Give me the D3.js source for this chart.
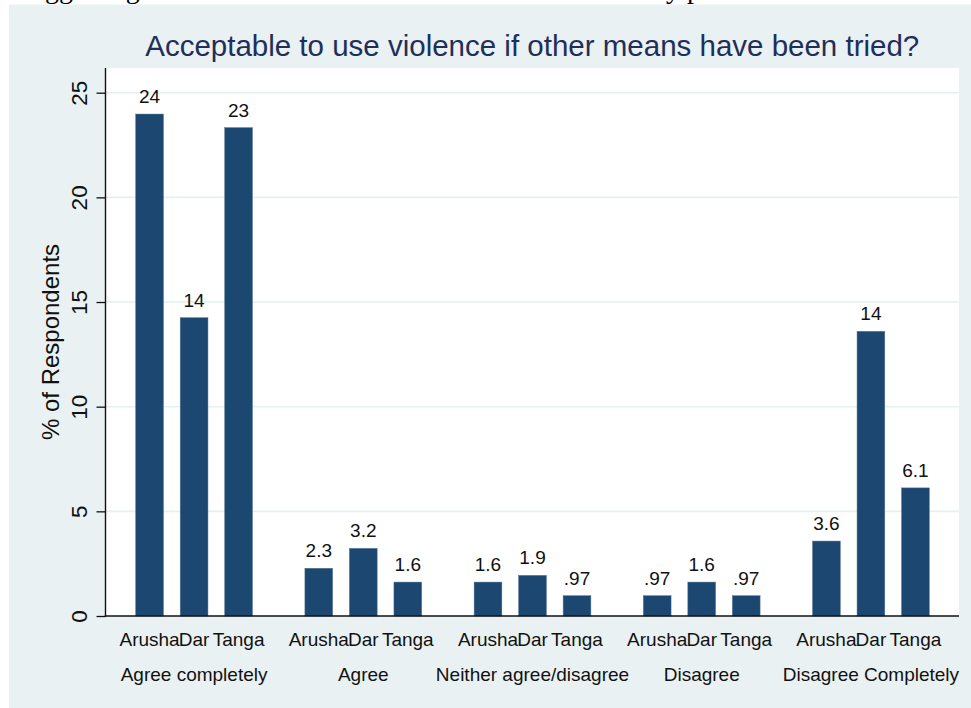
<!DOCTYPE html>
<html>
<head>
<meta charset="utf-8">
<script src="https://cdn.jsdelivr.net/npm/d3@7"></script>
<style>
  html, body { margin: 0; padding: 0; background: #ffffff; }
  svg { display: block; }
</style>
</head>
<body>
<svg id="chart" width="971" height="708"></svg>
<script>
// ---- data ----
const groups = ["Agree completely", "Agree", "Neither agree/disagree", "Disagree", "Disagree Completely"];
const cities = ["Arusha", "Dar", "Tanga"];
const arushaValues = [23.98, 2.28, 1.62, 0.97, 3.58];
const darValues    = [14.25, 3.23, 1.94, 1.62, 13.6];
const tangaValues  = [23.33, 1.62, 0.97, 0.97, 6.12];
const yTicks = [0, 5, 10, 15, 20, 25];
const titleText = "Acceptable to use violence if other means have been tried?";
const yTitle = "% of Respondents";

const seriesByCity = { Arusha: arushaValues, Dar: darValues, Tanga: tangaValues };
const rows = [];
groups.forEach((g, gi) => cities.forEach(c => rows.push({ group: g, city: c, value: seriesByCity[c][gi] })));

// ---- layout ----
const W = 971, H = 708;
const plotL = 105.5, plotR = 959, plotT = 68, plotB = 616;
const svg = d3.select("#chart");
const font = "'Liberation Sans', Arial, Helvetica, sans-serif";

// cut-off document text above the graph (only descenders visible, as in the reference)
const docText = svg.append("g").attr("font-family", "'Liberation Serif', 'Times New Roman', serif")
  .attr("font-size", 28).attr("fill", "#000");
docText.append("text").attr("x", 20).attr("y", -2).text("suggesting");
docText.append("text").attr("x", 652).attr("y", -2).text("by p");

// outer panel
svg.append("rect").attr("x", 9).attr("y", 4.5).attr("width", W - 9).attr("height", H - 4.5)
  .attr("fill", "#eaf1f3");
// plot region
svg.append("rect").attr("x", plotL).attr("y", plotT).attr("width", plotR - plotL).attr("height", plotB - plotT)
  .attr("fill", "#ffffff");

// scales
const y = d3.scaleLinear().domain([0, 25]).range([plotB, 92.7]);
const x0 = d3.scaleBand().domain(groups).range([135.7, 929.3]).paddingInner(0.31).paddingOuter(0);
const x1 = d3.scaleBand().domain(cities).range([0, x0.bandwidth()]).paddingInner(0.377).paddingOuter(0);

// gridlines
svg.append("g").selectAll("line").data(yTicks.filter(t => t > 0)).join("line")
  .attr("x1", plotL).attr("x2", plotR)
  .attr("y1", d => y(d)).attr("y2", d => y(d))
  .attr("stroke", "#e6eff2").attr("stroke-width", 1.6);

// bars
svg.append("g").selectAll("rect").data(rows).join("rect")
  .attr("x", d => x0(d.group) + x1(d.city))
  .attr("width", x1.bandwidth())
  .attr("y", d => y(d.value))
  .attr("height", d => y(0) - y(d.value))
  .attr("fill", "#1c4770")
  .attr("stroke", "#4f7396").attr("stroke-width", 0.5);

// value labels
const fmt = v => d3.format(".2g")(v).replace(/^0\./, ".");
svg.append("g").attr("font-family", font).attr("font-size", 19).attr("fill", "#111")
  .selectAll("text").data(rows).join("text")
  .attr("x", d => x0(d.group) + x1(d.city) + x1.bandwidth() / 2)
  .attr("y", d => y(d.value) - 11)
  .attr("text-anchor", "middle")
  .text(d => fmt(d.value));

// y axis
const yAxis = d3.axisLeft(y).tickValues(yTicks).tickSize(9).tickPadding(9).tickFormat(d3.format("d"));
const yg = svg.append("g").attr("transform", `translate(${plotL},0)`).call(yAxis);
yg.select(".domain").remove();
yg.selectAll(".tick line").attr("stroke", "#111").attr("stroke-width", 1.3);
yg.selectAll(".tick text")
  .attr("font-family", font).attr("font-size", 22.5).attr("fill", "#111")
  .attr("x", null).attr("dy", null)
  .attr("text-anchor", "middle")
  .attr("transform", "translate(-18.5,0) rotate(-90)");
svg.append("line").attr("x1", plotL).attr("x2", plotL).attr("y1", plotT).attr("y2", plotB + 0.7)
  .attr("stroke", "#111").attr("stroke-width", 1.4);

// x axis line
svg.append("line").attr("x1", plotL - 0.7).attr("x2", plotR).attr("y1", plotB).attr("y2", plotB)
  .attr("stroke", "#111").attr("stroke-width", 1.4);

// city labels
svg.append("g").attr("font-family", font).attr("font-size", 19).attr("fill", "#111")
  .selectAll("text").data(rows).join("text")
  .attr("x", d => x0(d.group) + x1(d.city) + x1.bandwidth() / 2)
  .attr("y", 646)
  .attr("text-anchor", "middle")
  .text(d => d.city);

// group labels
svg.append("g").attr("font-family", font).attr("font-size", 19).attr("fill", "#111")
  .selectAll("text").data(groups).join("text")
  .attr("x", d => x0(d) + x0.bandwidth() / 2)
  .attr("y", 681)
  .attr("text-anchor", "middle")
  .text(d => d);

// y title
svg.append("text")
  .attr("font-family", font).attr("font-size", 24).attr("fill", "#111")
  .attr("text-anchor", "middle")
  .attr("transform", `translate(59,${(plotT + plotB) / 2}) rotate(-90)`)
  .text(yTitle);

// title
svg.append("text")
  .attr("x", (plotL + plotR) / 2).attr("y", 56)
  .attr("text-anchor", "middle")
  .attr("font-family", font).attr("font-size", 29.5).attr("fill", "#1e2f5a")
  .text(titleText);
</script>
</body>
</html>
